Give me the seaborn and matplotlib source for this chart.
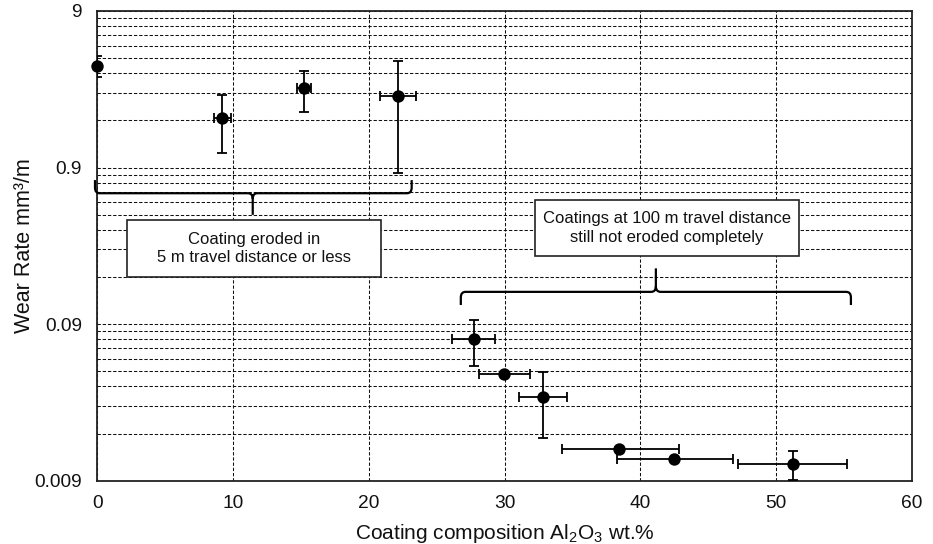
import numpy as np
import pandas as pd
import matplotlib
matplotlib.use("Agg")
import matplotlib.pyplot as plt
from matplotlib.path import Path
from matplotlib.patches import PathPatch, Rectangle
from matplotlib.ticker import FixedLocator, FuncFormatter, NullFormatter
import matplotlib.transforms as mtransforms
import seaborn as sns

# Al2O3 content of each coating (wt.%) with its min/max spread
alumina = [0.0, 9.21, 15.23, 22.18, 27.75, 29.99, 32.84, 38.46, 42.51, 51.23]
alumina_lo = [0.0, 8.60, 14.74, 20.83, 26.13, 28.12, 31.09, 34.22, 38.27, 47.20]
alumina_hi = [0.0, 9.83, 15.74, 23.48, 29.32, 31.88, 34.58, 42.83, 46.86, 55.22]

# Wear rate (mm^3/m) with lower/upper bounds
wear = [4.03, 1.874, 2.887, 2.578, 0.0726, 0.0432, 0.0307, 0.01428, 0.01233, 0.01156]
wear_lo = [3.40, 1.115, 2.047, 0.835, 0.0489, 0.0432, 0.0168, 0.01428, 0.01233, 0.00912]
wear_hi = [4.66, 2.628, 3.725, 4.314, 0.0957, 0.0432, 0.0445, 0.01428, 0.01233, 0.0140]

y_ticks = [0.009, 0.09, 0.9, 9]
x_ticks = [0, 10, 20, 30, 40, 50, 60]

group_labels = ["Coating eroded in\n5 m travel distance or less",
                "Coatings at 100 m travel distance\nstill not eroded completely"]

df = pd.DataFrame({"alumina": alumina, "wear": wear})

sns.set_theme(style="white")
plt.rcParams["font.family"] = ["Liberation Sans", "DejaVu Sans"]
plt.rcParams["mathtext.fontset"] = "custom"
plt.rcParams["mathtext.rm"] = "Liberation Sans"
plt.rcParams["mathtext.it"] = "Liberation Sans"

fig = plt.figure(figsize=(9.33, 5.44), dpi=100)
ax = fig.add_axes([0.1043, 0.1164, 0.8729, 0.8634])

ax.set_yscale("log")
ax.set_xlim(0, 60)
ax.set_ylim(0.009, 9)

# grid: major decades plus every multiple of the decade base
minor = []
for base in y_ticks[:-1]:
    minor += [base * k for k in range(2, 10)]
ax.yaxis.set_major_locator(FixedLocator(y_ticks))
ax.yaxis.set_minor_locator(FixedLocator(minor))
ax.yaxis.set_major_formatter(FuncFormatter(lambda v, p: f"{v:g}"))
ax.yaxis.set_minor_formatter(NullFormatter())
ax.xaxis.set_major_locator(FixedLocator(x_ticks))

grid_kw = dict(color="#111111", linestyle=(0, (3.2, 1.8)), linewidth=0.75)
ax.grid(True, which="major", axis="both", **grid_kw)
ax.grid(True, which="minor", axis="y", **grid_kw)
ax.set_axisbelow(True)

ax.tick_params(axis="both", which="both", length=0, labelsize=13.8, colors="#111111")
ax.tick_params(axis="y", pad=11)
ax.tick_params(axis="x", pad=10)

for s in ax.spines.values():
    s.set_visible(True)
    s.set_color("#222222")
    s.set_linewidth(1.3)

# error bars (asymmetric, clipped to the plot frame)
a = np.array(alumina); w = np.array(wear)
xerr = np.vstack([a - np.array(alumina_lo), np.array(alumina_hi) - a])
yerr = np.vstack([w - np.array(wear_lo), np.array(wear_hi) - w])
ax.errorbar(a, w, xerr=xerr, yerr=yerr, fmt="none", ecolor="black",
            elinewidth=1.3, capsize=3.5, capthick=1.3, zorder=3)

sns.scatterplot(data=df, x="alumina", y="wear", ax=ax, color="black",
                s=80, edgecolor="black", linewidth=0, zorder=4, clip_on=False,
                legend=False)

ax.set_xlabel("Coating composition Al$_2$O$_3$ wt.%", fontsize=15, color="#111111")
ax.set_ylabel("Wear Rate mm³/m", fontsize=15.5, color="#111111")
ax.xaxis.set_label_coords(0.5, -0.089)
ax.yaxis.set_label_coords(-0.077, 0.5)


def brace(ax, x0, x1, xm, yh, yend, ytip, rx=0.35, ry=0.012):
    """Curly brace: x in data units, y in axes fraction."""
    tr = mtransforms.blended_transform_factory(ax.transData, ax.transAxes)
    sgn_end = np.sign(yend - yh)
    sgn_tip = np.sign(ytip - yh)
    verts = [(x0, yend), (x0, yh + sgn_end * ry), (x0, yh), (x0 + rx, yh),
             (xm - rx, yh), (xm, yh), (xm, yh + sgn_tip * ry), (xm, ytip),
             (xm, yh + sgn_tip * ry), (xm, yh), (xm + rx, yh),
             (x1 - rx, yh), (x1, yh), (x1, yh + sgn_end * ry), (x1, yend)]
    codes = [Path.MOVETO, Path.LINETO, Path.CURVE3, Path.CURVE3,
             Path.LINETO, Path.CURVE3, Path.CURVE3, Path.LINETO,
             Path.MOVETO, Path.CURVE3, Path.CURVE3,
             Path.LINETO, Path.CURVE3, Path.CURVE3, Path.LINETO]
    ax.add_patch(PathPatch(Path(verts, codes), transform=tr, facecolor="none",
                           edgecolor="black", linewidth=1.6, clip_on=False, zorder=5))


brace(ax, -0.17, 23.16, 11.45, 0.612, 0.640, 0.566)
brace(ax, 26.78, 55.52, 41.15, 0.402, 0.374, 0.452)

# annotation boxes
for (bx, by, bw, bh), label in zip([(0.0361, 0.4330, 0.3123, 0.1220),
                                    (0.5371, 0.4784, 0.3242, 0.1192)], group_labels):
    ax.add_patch(Rectangle((bx, by), bw, bh, transform=ax.transAxes,
                           facecolor="white", edgecolor="#222222", linewidth=1.2,
                           zorder=5))
    ax.text(bx + bw / 2, by + bh / 2, label, transform=ax.transAxes,
            ha="center", va="center", fontsize=12, color="#111111",
            linespacing=1.3, zorder=6)

fig.savefig("out.png", dpi=100)
